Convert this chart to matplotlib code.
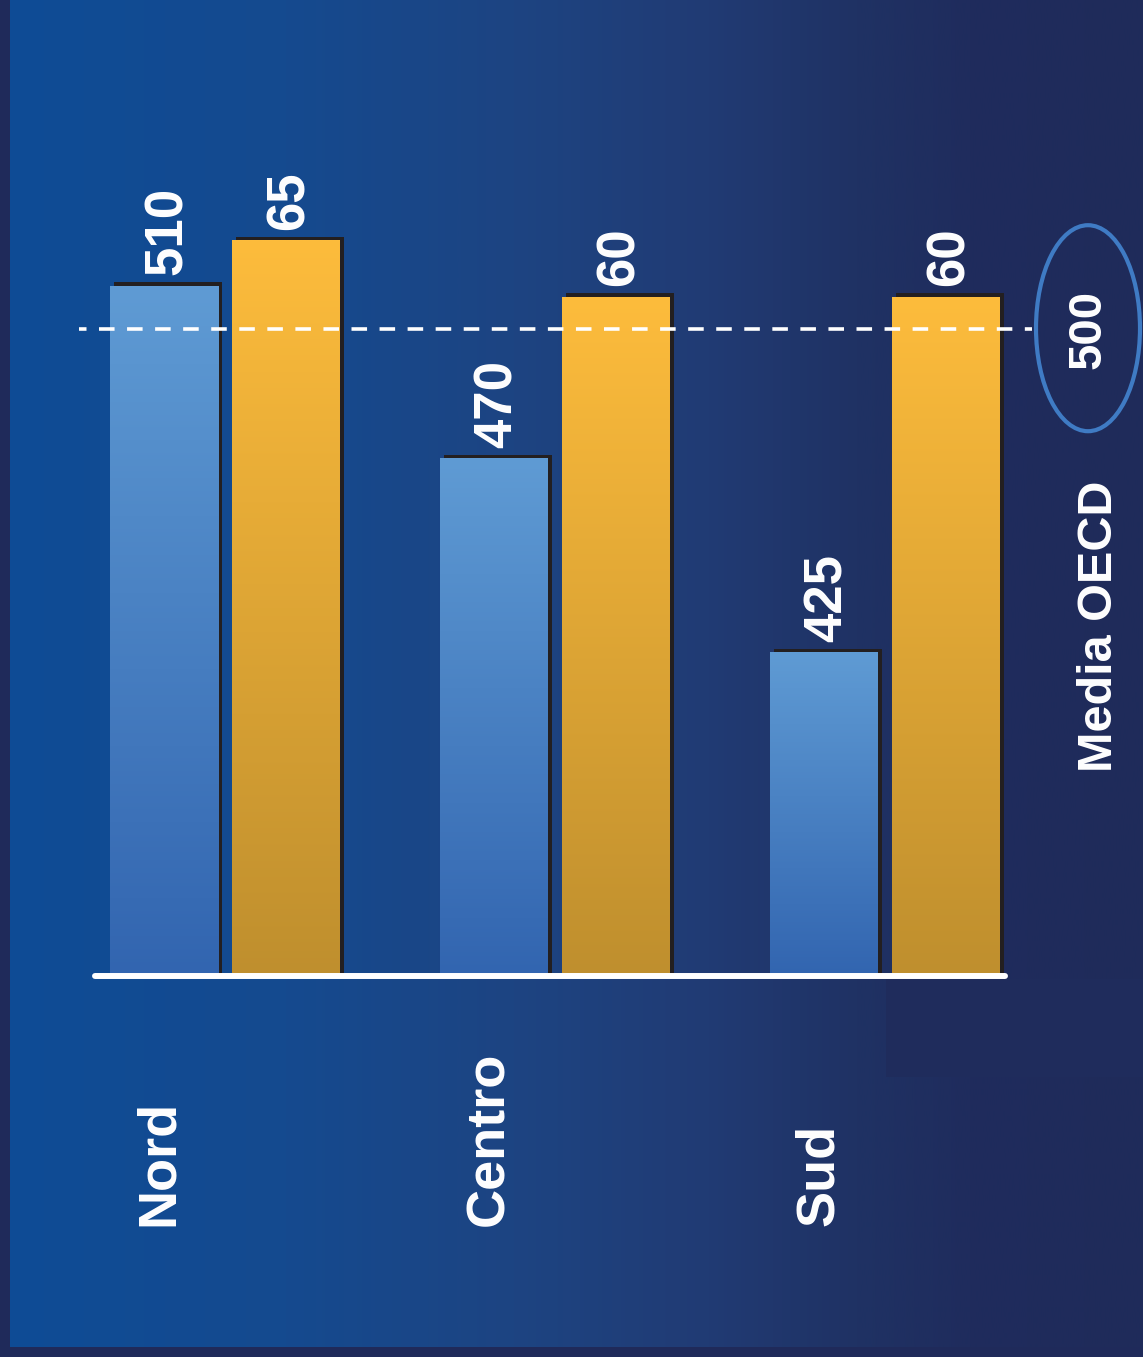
import matplotlib
matplotlib.use('Agg')
import matplotlib.pyplot as plt
from matplotlib.colors import LinearSegmentedColormap
from matplotlib.patches import Ellipse, Rectangle
from matplotlib.transforms import ScaledTranslation, blended_transform_factory
import numpy as np

plt.rcParams['font.family'] = ['Liberation Sans', 'DejaVu Sans']
plt.rcParams['font.weight'] = 'bold'
plt.rcParams['lines.scale_dashes'] = False

regions = ['Nord', 'Centro', 'Sud']
scores = [510, 470, 425]   # blue bars, score scale starting at 350
shares = [65, 60, 60]      # orange bars, scale starting at 0
oecd_mean = 500

W, H, DPI = 1143, 1357, 100
BASE_PX = 976       # baseline row, counted from the top
GROUP_PX = 330      # pixels between groups
FIRST_PX = 225      # centre of the first group
SCORE_PX = 4.31     # pixels per score point
SHARE_PX = 11.31    # pixels per share point
SCORE_MIN = 350

BAR_W = 108 / GROUP_PX
BAR_OFF = 61 / GROUP_PX


def gradient_bars(axis, xs, values, floor, top, low, shadow):
    cmap = LinearSegmentedColormap.from_list('', [low, top])
    grad = np.linspace(0, 1, 256).reshape(-1, 1)
    below = floor - 5
    back = axis.bar(xs, np.array(values) - below, bottom=below, width=BAR_W,
                    color='#231f20', lw=0, zorder=2)
    for p in back:
        p.set_transform(axis.transData + shadow)
    for xi, v in zip(xs, values):
        axis.imshow(grad, cmap=cmap, origin='lower', aspect='auto',
                    extent=(xi - BAR_W / 2, xi + BAR_W / 2, floor, v),
                    interpolation='bilinear', zorder=3)


def value_labels(axis, xs, values):
    for xi, v in zip(xs, values):
        axis.annotate(f'{v}', xy=(xi, v), xytext=(18, 11), textcoords='offset pixels',
                      rotation=90, rotation_mode='anchor', ha='left', va='baseline',
                      fontsize=38, color='white')


def main():
    fig = plt.figure(figsize=(W / DPI, H / DPI), dpi=DPI)

    # background: horizontal blue -> navy fade with a thin frame
    bg = fig.add_axes([0, 0, 1, 1])
    bg.set_axis_off()
    bg_cmap = LinearSegmentedColormap.from_list('bg', [
        (0.0, '#0e4c96'), (0.25, '#154a8f'), (0.45, '#1d4482'), (0.62, '#213b74'),
        (0.75, '#1f3264'), (0.85, '#1f2c5d'), (1.0, '#1f2b5a')])
    bg.imshow(np.linspace(0, 1, 512).reshape(1, -1), cmap=bg_cmap, aspect='auto',
              extent=(0, W, 0, H), interpolation='bilinear')
    bg.add_patch(Rectangle((886, H - 1077), W - 886, 1077 - 979, color='#1f2c5c', lw=0))
    bg.add_patch(Rectangle((0, 0), 10, H, color='#1f2a5a', lw=0))
    bg.add_patch(Rectangle((0, 0), W, 10, color='#1f2a5a', lw=0))
    bg.set_xlim(0, W)
    bg.set_ylim(0, H)

    pos = [0, (H - BASE_PX) / H, 1, BASE_PX / H]
    ax2 = fig.add_axes(pos)   # orange, share scale
    ax = fig.add_axes(pos)    # blue, score scale (drawn on top)

    shadow = ScaledTranslation(4 / DPI, 4 / DPI, fig.dpi_scale_trans)
    x = np.arange(len(regions))

    gradient_bars(ax, x - BAR_OFF, scores, SCORE_MIN, '#5f9bd4', '#3265b0', shadow)
    gradient_bars(ax2, x + BAR_OFF, shares, 0, '#fdbc3c', '#bf8f2e', shadow)
    value_labels(ax, x - BAR_OFF, scores)
    value_labels(ax2, x + BAR_OFF, shares)

    for name, xi in zip(regions, x):
        ax.annotate(name, xy=(xi, 0), xycoords=('data', 'axes fraction'),
                    xytext=(-52, -(1226 - BASE_PX)), textcoords='offset pixels',
                    rotation=90, rotation_mode='anchor', ha='left', va='baseline',
                    fontsize=39, color='white', annotation_clip=False)

    # OECD mean line, ellipse and label
    ax.axhline(oecd_mean, xmin=79 / W, xmax=1032 / W, color='white', lw=2.6,
               linestyle=(5.8, (11.2, 9.0)), zorder=6)
    ax.axhline(SCORE_MIN, xmin=95 / W, xmax=1005 / W, color='white', lw=4.3,
               solid_capstyle='round', clip_on=False, zorder=6)
    blend = blended_transform_factory(ax.transAxes, ax.transData)
    ax.add_patch(Ellipse((1088 / W, oecd_mean + 0.3), 104 / W, 206 / SCORE_PX,
                         transform=blend, fill=False, ec='#3f7bc4', lw=3, clip_on=False, zorder=6))
    ax.annotate(f'{oecd_mean}', xy=(1, oecd_mean), xycoords=('axes fraction', 'data'),
                xytext=(-42, 0), textcoords='offset pixels', rotation=90,
                rotation_mode='anchor', ha='center', va='baseline', fontsize=34, color='white')
    ax.annotate('Media OECD', xy=(1, 0), xycoords='axes fraction',
                xytext=(-31, BASE_PX - 772), textcoords='offset pixels', rotation=90,
                rotation_mode='anchor', ha='left', va='baseline', fontsize=35, color='white')

    for a in (ax, ax2):
        a.set_axis_off()
        a.set_xlim(-FIRST_PX / GROUP_PX, (W - FIRST_PX) / GROUP_PX)
    ax.set_ylim(SCORE_MIN, SCORE_MIN + BASE_PX / SCORE_PX)
    ax2.set_ylim(0, BASE_PX / SHARE_PX)

    fig.savefig('out.png', dpi=DPI)
    plt.close(fig)


if __name__ == '__main__':
    main()
